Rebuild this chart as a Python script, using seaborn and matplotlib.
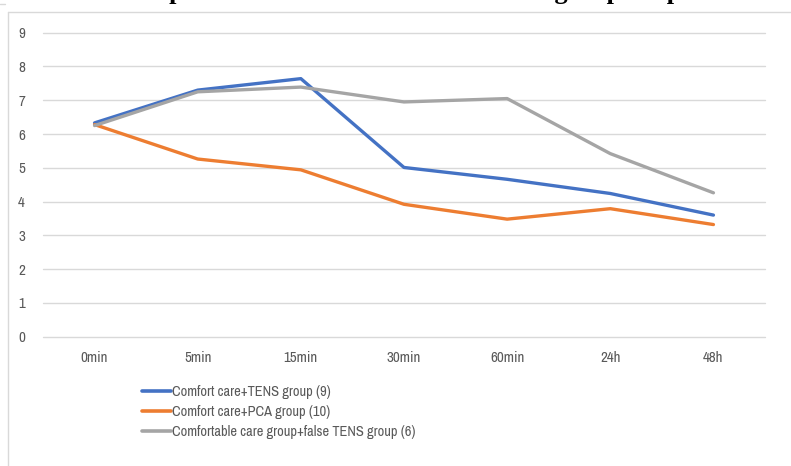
import matplotlib
matplotlib.use("Agg")
import matplotlib.pyplot as plt
from matplotlib.lines import Line2D
from matplotlib import font_manager
import seaborn as sns
import pandas as pd

# Time points and mean pain scores per group
time_points = ["0min", "5min", "15min", "30min", "60min", "24h", "48h"]
tens_group = [6.33, 7.30, 7.64, 5.01, 4.66, 4.24, 3.60]
pca_group = [6.28, 5.26, 4.94, 3.92, 3.48, 3.79, 3.32]
false_tens_group = [6.25, 7.25, 7.39, 6.95, 7.05, 5.42, 4.26]
group_names = [
    "Comfort care+TENS group (9)",
    "Comfort care+PCA group (10)",
    "Comfortable care group+false TENS group (6)",
]
y_ticks = list(range(0, 10))
title_text = "Comparison of VAS scores in the three groups of patients"

colors = ["#4472C4", "#ED7D31", "#A5A5A5"]
text_color = "#595959"
grid_color = "#D9D9D9"

sns.set_theme(style="white")

# Pick a narrow sans face for the labels (narrow first, then condensed)
def find_face(keys):
    for key in keys:
        for f in font_manager.fontManager.ttflist:
            name = f.fname
            if key in name and not any(k in name for k in ("Bold", "Oblique", "Italic")):
                return name
    return None

narrow = find_face(["SansNarrow-Regular", "Narrow", "Condensed"])
if narrow and "Narrow" in narrow:
    tick_font = font_manager.FontProperties(fname=narrow, size=10.8)
    legend_font = font_manager.FontProperties(fname=narrow, size=10.4)
elif narrow:
    tick_font = font_manager.FontProperties(fname=narrow, size=9.2)
    legend_font = font_manager.FontProperties(fname=narrow, size=8.8)
else:
    tick_font = font_manager.FontProperties(family="Roboto", size=9.2)
    legend_font = font_manager.FontProperties(family="Roboto", size=8.8)

df = pd.DataFrame({
    "time": time_points * 3,
    "score": tens_group + pca_group + false_tens_group,
    "group": [group_names[0]] * 7 + [group_names[1]] * 7 + [group_names[2]] * 7,
})
df["pos"] = df["time"].map({t: i for i, t in enumerate(time_points)})

W, H = 791, 466
fig = plt.figure(figsize=(W / 100, H / 100), dpi=100)
ax = fig.add_axes([43 / W, 1 - 336.7 / H, (765 - 43) / W, (336.7 - 32.7) / H])

# Horizontal gridlines
for v in y_ticks:
    ax.axhline(v, color=grid_color, linewidth=1.0, zorder=0, clip_on=False)

sns.lineplot(data=df, x="pos", y="score", hue="group", hue_order=group_names,
             palette=colors, sort=False, linewidth=2.4, legend=False, ax=ax)

ax.set_xlim(-0.5, len(time_points) - 0.5)
ax.set_ylim(0, 9)
ax.set_yticks(y_ticks)
ax.set_xticks(range(len(time_points)))
ax.set_xticklabels(time_points)
ax.set_xlabel("")
ax.set_ylabel("")
for s in ax.spines.values():
    s.set_visible(False)
ax.tick_params(axis="both", length=0, labelcolor=text_color)
ax.tick_params(axis="y", pad=13)
ax.tick_params(axis="x", pad=10)
for lab in ax.get_xticklabels() + ax.get_yticklabels():
    lab.set_fontproperties(tick_font)

# Legend below the plot
handles = [Line2D([0], [0], color=c, linewidth=2.6) for c in colors]
leg = fig.legend(handles, group_names, loc="upper left",
                 bbox_to_anchor=(142 / W, 1 - 385 / H), frameon=False,
                 prop=legend_font, handlelength=2.0, handletextpad=0.05,
                 labelspacing=0.42, borderaxespad=0, borderpad=0)
for t in leg.get_texts():
    t.set_color(text_color)

# Chart frame
frame_kw = dict(color=grid_color, linewidth=1.0, transform=fig.transFigure)
fig.add_artist(Line2D([8 / W, 1], [1 - 12 / H, 1 - 12 / H], **frame_kw))
fig.add_artist(Line2D([8 / W, 8 / W], [1 - 12 / H, 0], **frame_kw))
fig.add_artist(Line2D([0, 5 / W], [1 - 4 / H, 1 - 4 / H], **frame_kw))

# Title sitting above the frame
fig.text(115 / W, 1 + 1.0 / H, title_text, ha="left", va="baseline",
         fontsize=19, fontweight="bold", family=["Liberation Serif", "DejaVu Serif"],
         color="black")

fig.savefig("out.png", dpi=100)
